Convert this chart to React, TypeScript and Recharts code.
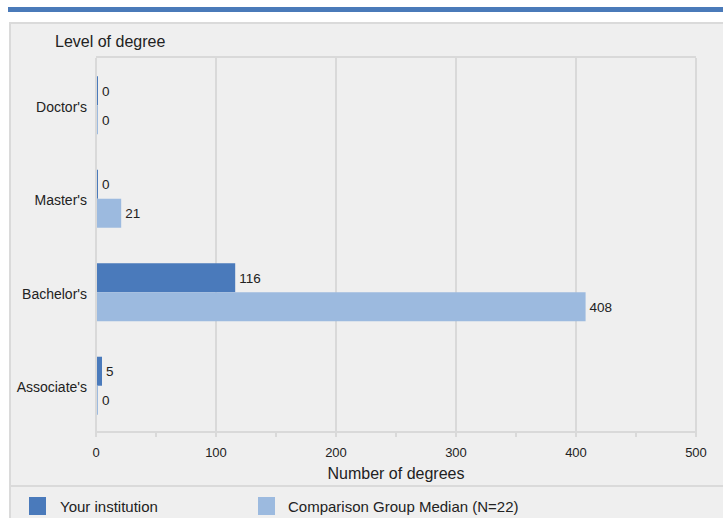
import React from 'react';
import { BarChart, Bar, XAxis, YAxis, CartesianGrid, LabelList } from 'recharts';

const categories = ["Doctor's", "Master's", "Bachelor's", "Associate's"];
const yourInstitution = [0, 0, 116, 5];
const comparisonMedian = [0, 21, 408, 0];
const xTicks = [0, 50, 100, 150, 200, 250, 300, 350, 400, 450, 500];
const gridValues = [100, 200, 300, 400, 500];
const seriesNames = ['Your institution', 'Comparison Group Median (N=22)'];
const seriesColors = ['#4a7abb', '#9cbadf'];
const yTitle = 'Level of degree';
const xTitle = 'Number of degrees';
const xMax = 500;

const data = categories.map((c, i) => ({ category: c, your: yourInstitution[i], comp: comparisonMedian[i] }));

const FONT = '"Liberation Sans", Arial, Helvetica, sans-serif';
const GRID = '#d9d9d9';

const XTick = (props: any) => {
  const { x, y, payload } = props;
  if (payload.value % 100 !== 0) return <g />;
  return (
    <text x={x} y={y} dy="0.71em" textAnchor="middle" fontSize={13} fill="#222" fontFamily={FONT}>
      {payload.value}
    </text>
  );
};

const verticalGen = (p: any) => {
  const sc = p && p.xAxis && p.xAxis.scale;
  if (typeof sc === 'function') return gridValues.map((v) => sc(v));
  return gridValues.map((v) => p.offset.left + (v / xMax) * p.offset.width);
};

export default function App() {
  return (
    <div style={{ position: 'absolute', left: 0, top: 0, width: 723, height: 518, background: '#fff', overflow: 'hidden', fontFamily: FONT }}>
      <div style={{ position: 'absolute', left: 8, top: 7, width: 715, height: 5, background: '#4a7ab9' }} />
      <div style={{ position: 'absolute', left: 9, top: 22, width: 730, height: 520, background: '#efefef', borderTop: '2px solid #dadada', borderLeft: '2px solid #dadada', boxSizing: 'border-box' }} />
      <div style={{ position: 'absolute', left: 10, top: 485, width: 720, height: 2, background: '#dadada' }} />
      <div style={{ position: 'absolute', left: 55, top: 33, fontSize: 16, color: '#222', whiteSpace: 'nowrap' }}>{yTitle}</div>
      <div style={{ position: 'absolute', left: 0, top: 0 }}>
        <BarChart
          width={723}
          height={518}
          data={data}
          layout="vertical"
          margin={{ top: 58, right: 27, bottom: 56, left: 8 }}
          barCategoryGap="19.5%"
          barGap={0}
        >
          <CartesianGrid
            stroke={GRID}
            strokeWidth={2}
            horizontalCoordinatesGenerator={(p: any) => [p.offset.top - 1]}
            verticalCoordinatesGenerator={verticalGen}
          />
          <XAxis
            type="number"
            domain={[0, xMax]}
            ticks={xTicks}
            interval={0}
            height={30}
            axisLine={{ stroke: GRID, strokeWidth: 2 }}
            tickLine={{ stroke: GRID, strokeWidth: 2 }}
            tickSize={5}
            tickMargin={11}
            tick={<XTick />}
            label={{ value: xTitle, position: 'bottom', offset: 6, fontSize: 16, fill: '#222', fontFamily: FONT }}
          />
          <YAxis
            type="category"
            dataKey="category"
            width={88}
            axisLine={{ stroke: GRID, strokeWidth: 2 }}
            tickLine={false}
            tickSize={6}
            tickMargin={3}
            tick={{ fontSize: 14, fill: '#222', fontFamily: FONT, dy: 2 }}
          />
          <Bar dataKey="your" fill={seriesColors[0]} minPointSize={2} isAnimationActive={false}>
            <LabelList dataKey="your" position="right" offset={4} fontSize={13.5} fill="#222" fontFamily={FONT} />
          </Bar>
          <Bar dataKey="comp" fill={seriesColors[1]} minPointSize={2} isAnimationActive={false}>
            <LabelList dataKey="comp" position="right" offset={4} fontSize={13.5} fill="#222" fontFamily={FONT} />
          </Bar>
        </BarChart>
      </div>
      <div style={{ position: 'absolute', left: 29, top: 497, width: 17, height: 18, background: seriesColors[0] }} />
      <div style={{ position: 'absolute', left: 60, top: 498, fontSize: 15, color: '#222', whiteSpace: 'nowrap' }}>{seriesNames[0]}</div>
      <div style={{ position: 'absolute', left: 258, top: 497, width: 17, height: 18, background: seriesColors[1] }} />
      <div style={{ position: 'absolute', left: 288, top: 498, fontSize: 15, color: '#222', whiteSpace: 'nowrap' }}>{seriesNames[1]}</div>
    </div>
  );
}
